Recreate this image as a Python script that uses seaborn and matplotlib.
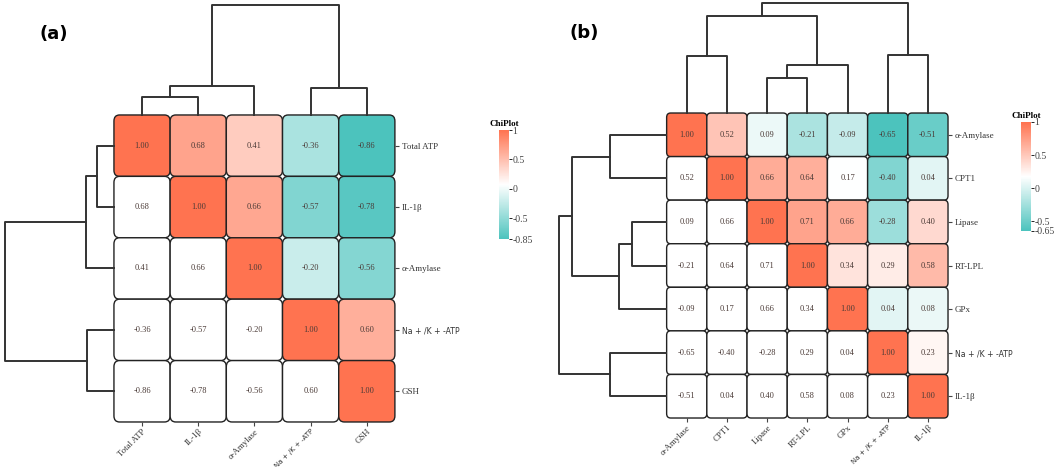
import numpy as np
import pandas as pd
import matplotlib
matplotlib.use("Agg")
import matplotlib.pyplot as plt
import seaborn as sns
from matplotlib.colors import LinearSegmentedColormap, Normalize
from matplotlib.patches import FancyBboxPatch

# ---- data ----
labels_a = ["Total ATP", "IL-1β", "α-Amylase", "Na + /K + -ATP", "GSH"]
corr_a = [
    [1.00, 0.68, 0.41, -0.36, -0.86],
    [0.68, 1.00, 0.66, -0.57, -0.78],
    [0.41, 0.66, 1.00, -0.20, -0.56],
    [-0.36, -0.57, -0.20, 1.00, 0.60],
    [-0.86, -0.78, -0.56, 0.60, 1.00],
]
# dendrogram merges: (child, child, height); ids >= n refer to earlier merges
links_a = [(0, 1, 0.16), (5, 2, 0.26), (3, 4, 0.25), (6, 7, 1.0)]
cbar_ticks_a = [1, 0.5, 0, -0.5, -0.85]
cbar_labels_a = ["1", "0.5", "0", "-0.5", "-0.85"]

labels_b = ["α-Amylase", "CPT1", "Lipase", "RT-LPL", "GPx", "Na + /K + -ATP", "IL-1β"]
corr_b = [
    [1.00, 0.52, 0.09, -0.21, -0.09, -0.65, -0.51],
    [0.52, 1.00, 0.66, 0.64, 0.17, -0.40, 0.04],
    [0.09, 0.66, 1.00, 0.71, 0.66, -0.28, 0.40],
    [-0.21, 0.64, 0.71, 1.00, 0.34, 0.29, 0.58],
    [-0.09, 0.17, 0.66, 0.34, 1.00, 0.04, 0.08],
    [-0.65, -0.40, -0.28, 0.29, 0.04, 1.00, 0.23],
    [-0.51, 0.04, 0.40, 0.58, 0.08, 0.23, 1.00],
]
links_b = [(2, 3, 0.315), (7, 4, 0.44), (0, 1, 0.52), (9, 8, 0.88), (5, 6, 0.525), (10, 11, 1.0)]
cbar_ticks_b = [1, 0.5, 0, -0.5, -0.65]
cbar_labels_b = ["1", "0.5", "0", "-0.5", "-0.65"]

SERIF = "Liberation Serif"
cmap = LinearSegmentedColormap.from_list("chiplot", ["#4cc3bd", "#ffffff", "#ff7350"])


def draw_dendro(ax, n, links, side):
    pos = {i: i + 0.5 for i in range(n)}
    hgt = {i: 0.0 for i in range(n)}
    for k, (a, b, h) in enumerate(links):
        xs = [pos[a], pos[a], pos[b], pos[b]]
        ys = [hgt[a], h, h, hgt[b]]
        if side == "top":
            ax.plot(xs, ys, color="#333333", lw=1.4, clip_on=False)
        else:
            ax.plot(ys, xs, color="#333333", lw=1.4, clip_on=False)
        pos[n + k] = (pos[a] + pos[b]) / 2
        hgt[n + k] = h
    if side == "top":
        ax.set_xlim(0, n)
        ax.set_ylim(0, 1)
    else:
        ax.set_ylim(n, 0)
        ax.set_xlim(1, 0)
    ax.axis("off")


def draw_panel(fig, box_hm, box_top, box_left, box_cb, labels, corr, links, ticks, ticklabels):
    ax = fig.add_axes(box_hm)
    ax_top = fig.add_axes(box_top)
    ax_left = fig.add_axes(box_left)
    cax = fig.add_axes(box_cb)

    df = pd.DataFrame(corr, index=labels, columns=labels)
    vmin, vmax = ticks[-1], ticks[0]
    norm = Normalize(vmin=vmin, vmax=vmax)
    sns.heatmap(df, ax=ax, cmap=cmap, vmin=vmin, vmax=vmax, annot=True, fmt=".2f",
                annot_kws={"size": 6, "color": "#4a3a36", "family": SERIF},
                cbar_ax=cax, cbar_kws={"ticks": ticks})
    ax.collections[0].set_visible(False)

    n = len(labels)
    for i in range(n):
        for j in range(n):
            fc = cmap(norm(corr[i][j])) if j >= i else "white"
            ax.add_patch(FancyBboxPatch((j, i), 1, 1, boxstyle="round,pad=0,rounding_size=0.1",
                                        fc=fc, ec="#222222", lw=1.0, zorder=1, clip_on=False))

    ax.yaxis.tick_right()
    ax.set_yticks(np.arange(n) + 0.5)
    ax.set_yticklabels(labels, rotation=0, fontsize=6.5, family=SERIF, color="#333333")
    ax.set_xticks(np.arange(n) + 0.5)
    ax.set_xticklabels(labels, rotation=45, ha="right", rotation_mode="anchor",
                       fontsize=6.3, family=SERIF, color="#333333")
    ax.tick_params(length=3, width=0.8, color="#444444", pad=2)
    ax.tick_params(axis="x", pad=1)
    for t in ax.get_yticklabels():
        if t.get_text().startswith("Na"):
            t.set_family("DejaVu Sans")
            t.set_fontsize(5.6)
    for t in ax.get_xticklabels():
        if t.get_text().startswith("Na"):
            t.set_family("DejaVu Sans")
            t.set_fontsize(5.0)
    ax.set_xlabel("")
    ax.set_ylabel("")

    cbar = ax.collections[0].colorbar
    cbar.outline.set_visible(False)
    cbar.set_ticks(ticks)
    cbar.set_ticklabels(ticklabels)
    cbar.ax.tick_params(length=2, width=0.6, pad=0.5, labelsize=7)
    for t in cbar.ax.get_yticklabels():
        t.set_family(SERIF)
        t.set_color("#444444")
    cbar.ax.set_title("ChiPlot", fontsize=6.5, fontweight="bold", family=SERIF, pad=3)

    draw_dendro(ax_top, n, links, "top")
    draw_dendro(ax_left, n, links, "left")


fig = plt.figure(figsize=(10.59, 4.67), dpi=100)
fig.patch.set_facecolor("white")

draw_panel(fig,
           [0.1076, 0.0964, 0.2653, 0.6574],
           [0.1076, 0.7537, 0.2653, 0.2355],
           [0.0047, 0.0964, 0.1029, 0.6574],
           [0.4712, 0.4882, 0.0094, 0.2334],
           labels_a, corr_a, links_a, cbar_ticks_a, cbar_labels_a)

draw_panel(fig,
           [0.6295, 0.1049, 0.2657, 0.6531],
           [0.6295, 0.7580, 0.2657, 0.2355],
           [0.5279, 0.1049, 0.1010, 0.6531],
           [0.9641, 0.5054, 0.0094, 0.2334],
           labels_b, corr_b, links_b, cbar_ticks_b, cbar_labels_b)

fig.text(0.037, 0.927, "(a)", fontsize=13, fontweight="bold", ha="left", va="center")
fig.text(0.538, 0.929, "(b)", fontsize=13, fontweight="bold", ha="left", va="center")

fig.savefig("out.png", dpi=100, facecolor="white")
